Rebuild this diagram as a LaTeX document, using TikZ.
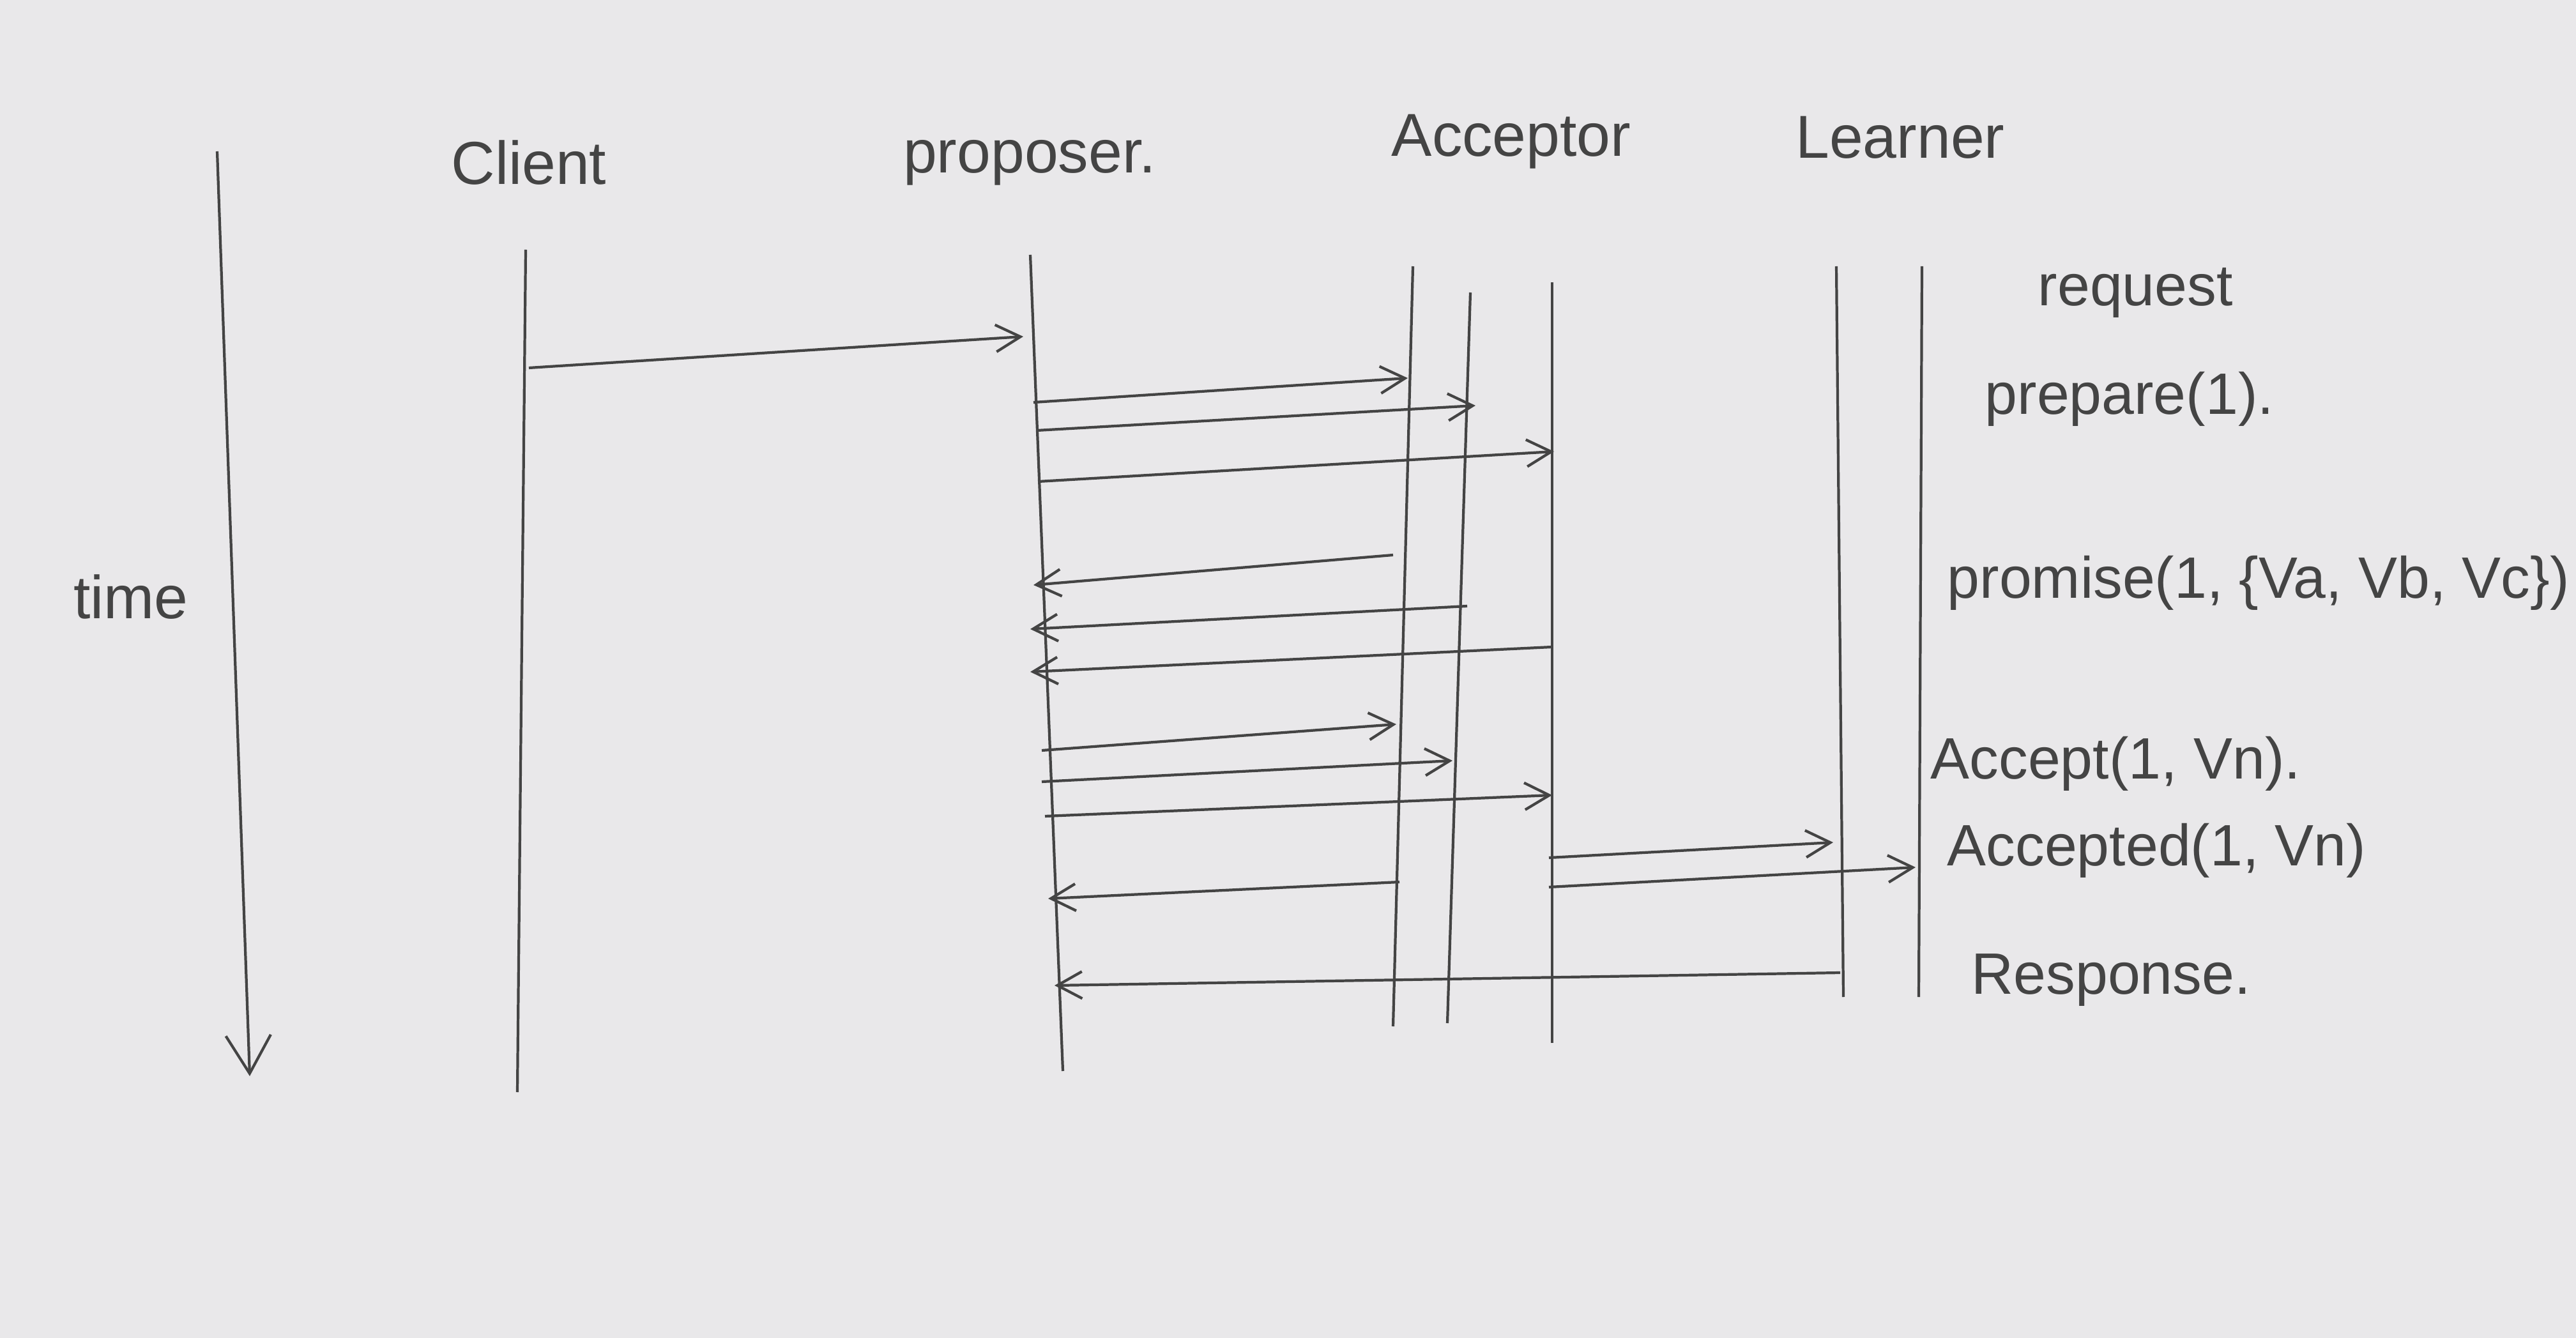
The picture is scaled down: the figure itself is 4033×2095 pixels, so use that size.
\documentclass[tikz,border=0pt]{standalone}
\usepackage{fontspec}
\setmainfont{Liberation Sans}
\usetikzlibrary{arrows.meta}
\definecolor{paper}{HTML}{E9E8EA}
\definecolor{pencil}{HTML}{444444}
\tikzset{
  lifeline/.style={draw=pencil, line width=1.2pt},
  msg/.style={draw=pencil, line width=1.2pt, -{Straight Barb[length=11pt,width=12pt,line width=1.2pt]}},
  timearrow/.style={draw=pencil, line width=1.2pt, -{Straight Barb[length=17pt,width=20pt,line width=1.2pt]}},
  head/.style={text=pencil, font=\fontsize{27}{30}\selectfont, inner sep=0pt},
  lbl/.style={text=pencil, font=\fontsize{26}{30}\selectfont, inner sep=0pt, anchor=west},
}
\begin{document}
\begin{tikzpicture}[x=0.01cm, y=-0.01cm]
\fill[paper] (0,0) rectangle (4033,2095);
\useasboundingbox (0,0) rectangle (4033,2095);

% headers
\node[head] (hclient) at (828,255) {Client};
\node[head] (hprop) at (1612,255) {proposer.};
\node[head] (hacc) at (2366,222) {Acceptor};
\node[head] (hlearn) at (2975,215) {Learner};
\node[head] (htime) at (205,935) {time};

% lifelines
\coordinate (cT) at (823,391);  \coordinate (cB) at (810,1710);
\coordinate (pT) at (1613,399); \coordinate (pB) at (1664,1677);
\coordinate (a1T) at (2212,417); \coordinate (a1B) at (2181,1607);
\coordinate (a2T) at (2302,458); \coordinate (a2B) at (2266,1602);
\coordinate (a3T) at (2430,442); \coordinate (a3B) at (2430,1633);
\coordinate (l1T) at (2875,417); \coordinate (l1B) at (2886,1561);
\coordinate (l2T) at (3009,417); \coordinate (l2B) at (3004,1561);
\coordinate (tT) at (340,237);  \coordinate (tB) at (391,1685);

\draw[lifeline] (cT) -- (cB);
\draw[lifeline] (pT) -- (pB);
\draw[lifeline] (a1T) -- (a1B);
\draw[lifeline] (a2T) -- (a2B);
\draw[lifeline] (a3T) -- (a3B);
\draw[lifeline] (l1T) -- (l1B);
\draw[lifeline] (l2T) -- (l2B);
\draw[timearrow] (tT) -- (tB);

% message end points
\coordinate (m1s) at (828,576);   \coordinate (m1e) at (1602,527);
\coordinate (m2s) at (1618,630);  \coordinate (m2e) at (2204,592);
\coordinate (m3s) at (1623,674);  \coordinate (m3e) at (2310,635);
\coordinate (m4s) at (1625,754);  \coordinate (m4e) at (2433,707);
\coordinate (m5s) at (2181,869);  \coordinate (m5e) at (1618,916);
\coordinate (m6s) at (2297,949);  \coordinate (m6e) at (1613,985);
\coordinate (m7s) at (2430,1013); \coordinate (m7e) at (1613,1052);
\coordinate (m8s) at (1631,1175); \coordinate (m8e) at (2186,1134);
\coordinate (m9s) at (1631,1224); \coordinate (m9e) at (2274,1191);
\coordinate (m10s) at (1636,1278); \coordinate (m10e) at (2430,1245);
\coordinate (m11s) at (2425,1343); \coordinate (m11e) at (2870,1319);
\coordinate (m12s) at (2425,1389); \coordinate (m12e) at (2999,1358);
\coordinate (m13s) at (2191,1381); \coordinate (m13e) at (1641,1407);
\coordinate (m14s) at (2881,1523); \coordinate (m14e) at (1651,1543);

\draw[msg] (m1s) -- (m1e);
\draw[msg] (m2s) -- (m2e);
\draw[msg] (m3s) -- (m3e);
\draw[msg] (m4s) -- (m4e);
\draw[msg] (m5s) -- (m5e);
\draw[msg] (m6s) -- (m6e);
\draw[msg] (m7s) -- (m7e);
\draw[msg] (m8s) -- (m8e);
\draw[msg] (m9s) -- (m9e);
\draw[msg] (m10s) -- (m10e);
\draw[msg] (m11s) -- (m11e);
\draw[msg] (m12s) -- (m12e);
\draw[msg] (m13s) -- (m13e);
\draw[msg] (m14s) -- (m14e);

% labels
\node[lbl] (lreq) at (3190,458) {request};
\node[lbl] (lprep) at (3107,625) {prepare(1).};
\node[lbl] (lprom) at (3048,913) {promise(1, \{Va, Vb, Vc\})};
\node[lbl] (lacc) at (3022,1196) {Accept(1, Vn).};
\node[lbl] (lacd) at (3048,1332) {Accepted(1, Vn)};
\node[lbl] (lresp) at (3086,1535) {Response.};
\end{tikzpicture}
\end{document}
